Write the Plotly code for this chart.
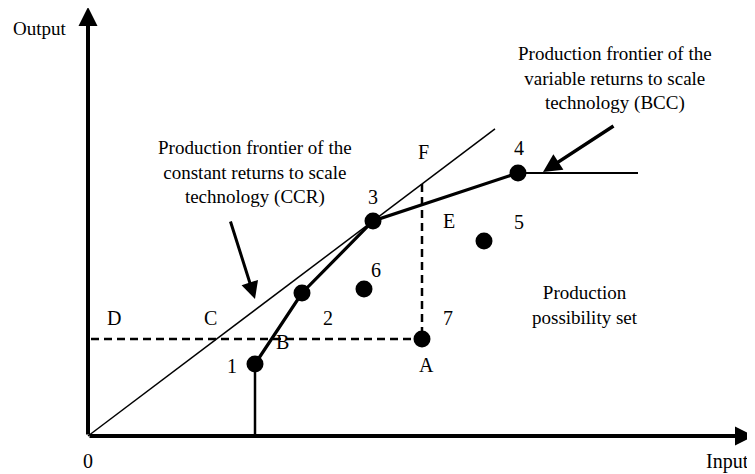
import plotly.graph_objects as go

# ---- data (units: diagram units, origin at axes corner) ----
dmu_labels = ["1", "2", "3", "4", "5", "6", "7"]
dmu_x = [16.7, 21.4, 28.5, 43.0, 39.6, 27.6, 33.4]
dmu_y = [7.2, 14.3, 21.5, 26.3, 19.5, 14.7, 9.7]

bcc_order = ["1", "2", "3", "4"]          # units on the VRS frontier
bcc_flat_end_x = 55.0                      # horizontal extension after unit 4
ccr_end_x = 40.7                           # CCR ray drawn up to this input
ccr_slope = dmu_y[2] / dmu_x[2]            # ray through unit 3

x_max, y_max = 66.6, 42.9                  # axis lengths

font_family = "Liberation Serif, Times New Roman, serif"
FS = 20

fig = go.Figure()

# CCR ray
fig.add_trace(go.Scatter(x=[0, ccr_end_x], y=[0, ccr_slope * ccr_end_x], mode="lines",
                         line=dict(color="black", width=1.5), hoverinfo="skip"))

# BCC frontier
idx = [dmu_labels.index(k) for k in bcc_order]
bx = [dmu_x[i] for i in idx]
by = [dmu_y[i] for i in idx]
fig.add_trace(go.Scatter(x=bx, y=by, mode="lines",
                         line=dict(color="black", width=3.2), hoverinfo="skip"))
# vertical segment below unit 1
fig.add_trace(go.Scatter(x=[bx[0], bx[0]], y=[0, by[0]], mode="lines",
                         line=dict(color="black", width=2.5), hoverinfo="skip"))
# horizontal segment after unit 4
fig.add_trace(go.Scatter(x=[bx[-1], bcc_flat_end_x], y=[by[-1], by[-1]], mode="lines",
                         line=dict(color="black", width=2), hoverinfo="skip"))

# dashed projections for unit 7 (A)
ax_, ay_ = dmu_x[6], dmu_y[6]
fig.add_trace(go.Scatter(x=[0.3, ax_], y=[ay_, ay_], mode="lines",
                         line=dict(color="black", width=2.5, dash="8px,5px"), hoverinfo="skip"))
fig.add_trace(go.Scatter(x=[ax_, ax_], y=[ccr_slope * ax_, ay_], mode="lines",
                         line=dict(color="black", width=2.5, dash="8px,5px"), hoverinfo="skip"))

# units
fig.add_trace(go.Scatter(x=dmu_x, y=dmu_y, mode="markers",
                         marker=dict(color="black", size=17), hoverinfo="skip"))

ann = []
def arrow(x0, y0, x1, y1, w, size):
    ann.append(dict(x=x1, y=y1, ax=x0, ay=y0, xref="x", yref="y", axref="x", ayref="y",
                    text="", showarrow=True, arrowhead=2, arrowwidth=w, arrowsize=size,
                    arrowcolor="black", standoff=0, startstandoff=0))

# axes with arrowheads
arrow(0, 0, x_max, 0, 4, 0.95)
arrow(0, 0, 0, y_max, 4, 0.95)
# pointer arrows
arrow(14.2, 21.6, 16.7, 13.7, 3, 1.15)
arrow(52.7, 31.1, 45.5, 26.4, 3.5, 1.05)

def label(x, y, t, size=FS):
    ann.append(dict(x=x, y=y, xref="x", yref="y", text=t, showarrow=False,
                    xanchor="center", yanchor="middle",
                    font=dict(family=font_family, size=size, color="black")))

label(-4.8, 40.8, "Output", 19)
label(63.9, -2.5, "Input")
label(0, -2.5, "0")
label(14.4, 7.0, "1")
label(19.4, 9.4, "B")
label(24.0, 11.8, "2")
label(12.2, 11.8, "C")
label(2.6, 11.8, "D")
label(28.8, 16.6, "6")
label(28.5, 23.9, "3")
label(33.5, 28.4, "F")
label(43.1, 28.8, "4")
label(36.1, 21.5, "E")
label(43.1, 21.4, "5")
label(36.0, 11.8, "7")
label(33.8, 7.1, "A")
label(16.7, 26.4, "Production frontier of the<br>constant returns to scale<br>technology (CCR)", 19)
label(52.7, 35.8, "Production frontier of the<br>variable returns to scale<br>technology (BCC)", 19)
label(49.7, 13.15, "Production<br>possibility set", 19)

# The page body adds an 8px offset; the figure is sized to fit the window.
fig.update_layout(
    width=747, height=466, margin=dict(l=0, r=0, t=0, b=0),
    paper_bgcolor="white", plot_bgcolor="white", showlegend=False,
    xaxis=dict(range=[-8.0, 66.7], visible=False, fixedrange=True),
    yaxis=dict(range=[-3.8, 42.8], visible=False, fixedrange=True),
    annotations=ann,
)

fig.write_html("out.html")
